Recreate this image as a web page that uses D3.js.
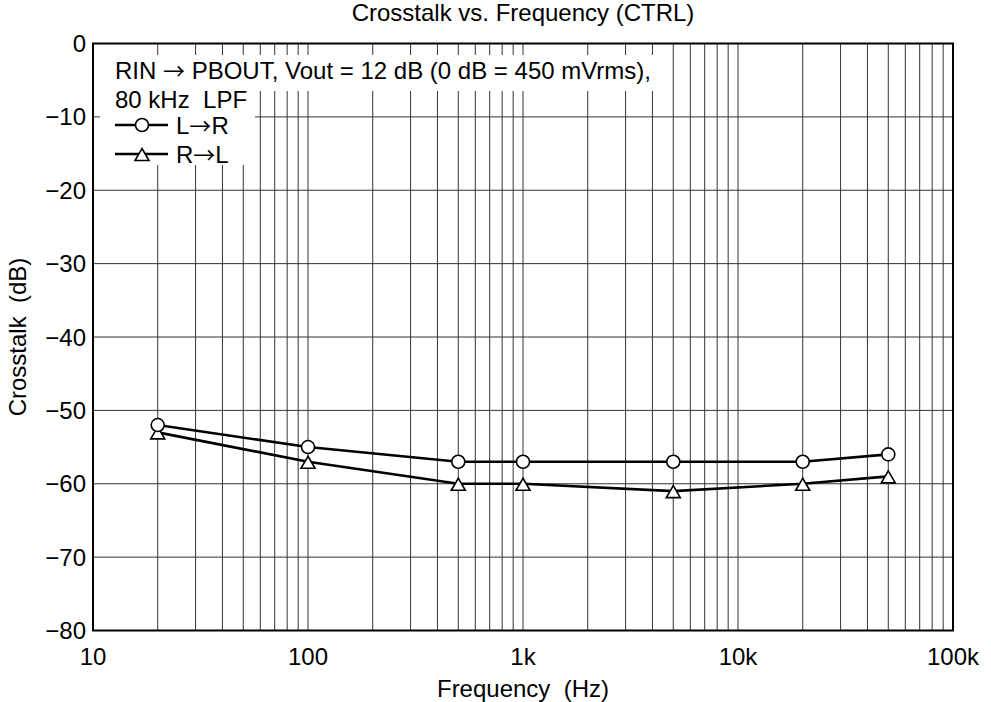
<!DOCTYPE html>
<html>
<head>
<meta charset="utf-8">
<script src="https://cdn.jsdelivr.net/npm/d3@7"></script>
<style>
  body { margin: 0; background: #fff; }
  svg { font-family: "Liberation Sans", Arial, sans-serif; }
  .arr { font-family: "Noto Sans CJK JP", "DejaVu Sans", sans-serif; font-size: 22px; }
</style>
</head>
<body>
<svg width="991" height="702"></svg>
<script>
// measurement points (Hz) and crosstalk readings (dB)
var freqs = [20, 100, 500, 1000, 5000, 20000, 50000];
var lToR = [-52, -55, -57, -57, -57, -57, -56];
var rToL = [-53, -57, -60, -60, -61, -60, -59];

var xTickVals = [10, 100, 1000, 10000, 100000];
var xTickText = ['10', '100', '1k', '10k', '100k'];
var yTickVals = [0, -10, -20, -30, -40, -50, -60, -70, -80];

var plotLeft = 93, plotRight = 953, plotTop = 43.5, plotBottom = 630.5;
var fs = 24;
var svg = d3.select('svg');

var x = d3.scaleLog().domain([10, 100000]).range([plotLeft, plotRight]);
var y = d3.scaleLinear().domain([-80, 0]).range([plotBottom, plotTop]);

// grid lines
var minor = [];
for (var k = 10; k < 100000; k *= 10) {
  for (var d = 1; d <= 9; d++) {
    if (k * d > 10) minor.push(k * d);
  }
}
svg.append('g').selectAll('line')
  .data(minor)
  .enter()
  .append('line')
  .attr('x1', function(d) { return x(d); })
  .attr('x2', function(d) { return x(d); })
  .attr('y1', plotTop)
  .attr('y2', plotBottom)
  .attr('stroke', '#333')
  .attr('stroke-width', 1);

svg.append('g').selectAll('line')
  .data(yTickVals.slice(1, -1))
  .enter()
  .append('line')
  .attr('x1', plotLeft)
  .attr('x2', plotRight)
  .attr('y1', function(d) { return y(d); })
  .attr('y2', function(d) { return y(d); })
  .attr('stroke', '#333')
  .attr('stroke-width', 1);

// white patches behind the annotation / legend
svg.append('rect').attr('x', 100).attr('y', 55).attr('width', 560).attr('height', 36).attr('fill', '#fff');
svg.append('rect').attr('x', 100).attr('y', 90).attr('width', 155).attr('height', 75).attr('fill', '#fff');

// frame
svg.append('rect')
  .attr('x', plotLeft).attr('y', plotTop)
  .attr('width', plotRight - plotLeft).attr('height', plotBottom - plotTop)
  .attr('fill', 'none').attr('stroke', '#000').attr('stroke-width', 2);

// tick labels
svg.append('g').selectAll('text')
  .data(xTickVals)
  .enter()
  .append('text')
  .attr('x', function(d) { return x(d); })
  .attr('y', 665)
  .attr('text-anchor', 'middle')
  .attr('font-size', fs)
  .text(function(d, i) { return xTickText[i]; });

svg.append('g').selectAll('text')
  .data(yTickVals)
  .enter()
  .append('text')
  .attr('x', 86)
  .attr('y', function(d) { return y(d) + 8.5; })
  .attr('text-anchor', 'end')
  .attr('font-size', fs)
  .text(function(d) { return d < 0 ? '\u2212' + (-d) : d; });

// titles
svg.append('text').attr('x', 523).attr('y', 21).attr('text-anchor', 'middle')
  .attr('font-size', fs).text('Crosstalk vs. Frequency (CTRL)');
svg.append('text').attr('x', 523).attr('y', 697).attr('text-anchor', 'middle')
  .attr('font-size', fs).style('white-space', 'pre').text('Frequency  (Hz)');
svg.append('text').attr('transform', 'translate(26,337) rotate(-90)').attr('text-anchor', 'middle')
  .attr('font-size', fs).style('white-space', 'pre').text('Crosstalk  (dB)');

// data lines
var line = d3.line()
  .x(function(d) { return x(d[0]); })
  .y(function(d) { return y(d[1]); });

var triPath = 'M0,-6.5L7,5.5L-7,5.5Z';

function drawSeries(vals, marker) {
  var pts = d3.zip(freqs, vals);
  svg.append('path')
    .datum(pts)
    .attr('d', line)
    .attr('fill', 'none')
    .attr('stroke', '#000')
    .attr('stroke-width', 2.6);
  var g = svg.append('g');
  if (marker === 'circle') {
    g.selectAll('circle').data(pts).enter().append('circle')
      .attr('cx', function(d) { return x(d[0]); })
      .attr('cy', function(d) { return y(d[1]); })
      .attr('r', 6.5)
      .attr('fill', '#fff').attr('stroke', '#000').attr('stroke-width', 1.6);
  } else {
    g.selectAll('path').data(pts).enter().append('path')
      .attr('transform', function(d) { return 'translate(' + x(d[0]) + ',' + (y(d[1]) + 1) + ')'; })
      .attr('d', triPath)
      .attr('fill', '#fff').attr('stroke', '#000').attr('stroke-width', 1.6);
  }
}
drawSeries(rToL, 'triangle');
drawSeries(lToR, 'circle');

// text with a thin arrow glyph in the middle
function arrowText(xPos, yPos, before, after) {
  var t = svg.append('text').attr('x', xPos).attr('y', yPos).attr('font-size', fs)
    .style('white-space', 'pre');
  t.append('tspan').text(before);
  t.append('tspan').attr('class', 'arr').text('\u2192');
  t.append('tspan').text(after);
}

// annotation and legend
arrowText(115, 79, 'RIN ', ' PBOUT, Vout = 12 dB (0 dB = 450 mVrms),');
svg.append('text').attr('x', 115).attr('y', 108).attr('font-size', fs)
  .style('white-space', 'pre').text('80 kHz  LPF');

var legend = [
  { from: 'L', to: 'R', marker: 'circle', y: 125 },
  { from: 'R', to: 'L', marker: 'triangle', y: 154 }
];
legend.forEach(function(item) {
  svg.append('line').attr('x1', 115).attr('x2', 168).attr('y1', item.y).attr('y2', item.y)
    .attr('stroke', '#000').attr('stroke-width', 2.6);
  if (item.marker === 'circle') {
    svg.append('circle').attr('cx', 142).attr('cy', item.y).attr('r', 6.5)
      .attr('fill', '#fff').attr('stroke', '#000').attr('stroke-width', 1.6);
  } else {
    svg.append('path').attr('transform', 'translate(142,' + (item.y + 1) + ')').attr('d', triPath)
      .attr('fill', '#fff').attr('stroke', '#000').attr('stroke-width', 1.6);
  }
  arrowText(176, item.y + 8.5, item.from, item.to);
});
</script>
</body>
</html>
